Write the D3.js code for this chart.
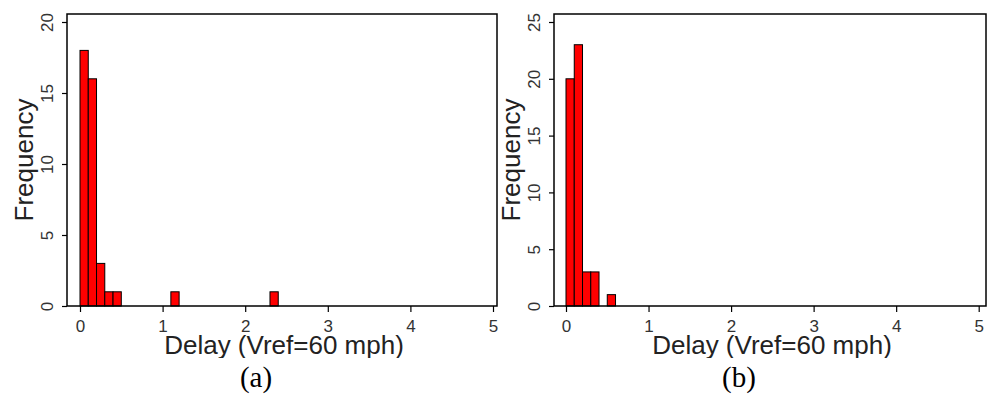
<!DOCTYPE html>
<html>
<head>
<meta charset="utf-8">
<script src="https://cdn.jsdelivr.net/npm/d3@7"></script>
<style>
  html, body { margin: 0; padding: 0; background: #fff; }
  svg { display: block; }
</style>
</head>
<body>
<svg id="chart" width="997" height="402"></svg>
<script>
// ---- data ----
const binWidth = 0.1;
const binStartsA = [0.0, 0.1, 0.2, 0.3, 0.4, 1.1, 2.3];
const countsA    = [18, 16, 3, 1, 1, 1, 1];
const binStartsB = [0.0, 0.1, 0.2, 0.3, 0.5];
const countsB    = [20, 23, 3, 3, 1];
const xTicks = [0, 1, 2, 3, 4, 5];
const yTicksA = [0, 5, 10, 15, 20];
const yTicksB = [0, 5, 10, 15, 20, 25];
const xTitle = "Delay (Vref=60 mph)";
const yTitle = "Frequency";
const panelLabels = ["(a)", "(b)"];

const svg = d3.select("#chart");

const panels = [
  { starts: binStartsA, counts: countsA, yTicks: yTicksA, yMax: 20,
    box: [67, 14, 497, 306], xr: [80, 493], yTop: 22,
    yLabOff: 14, yTitleX: 33, cap: panelLabels[0], capX: 256 },
  { starts: binStartsB, counts: countsB, yTicks: yTicksB, yMax: 25,
    box: [554, 14, 986, 306], xr: [566, 978.7], yTop: 22,
    yLabOff: 14, yTitleX: 520, cap: panelLabels[1], capX: 739 }
];

svg.append("defs").append("clipPath").attr("id", "titleClip")
  .append("rect").attr("x", 0).attr("y", 0).attr("width", 997).attr("height", 358);

panels.forEach((p, i) => {
  const [bx0, by0, bx1, by1] = p.box;
  const x = d3.scaleLinear().domain([0, 5]).range(p.xr);
  const y = d3.scaleLinear().domain([0, p.yMax]).range([by1, p.yTop]);
  const g = svg.append("g");

  const data = p.starts.map((s, k) => ({ x0: s, x1: s + binWidth, n: p.counts[k] }));

  g.selectAll("rect.bar").data(data).enter().append("rect")
    .attr("class", "bar")
    .attr("x", d => x(d.x0))
    .attr("width", d => x(d.x1) - x(d.x0))
    .attr("y", d => y(d.n))
    .attr("height", d => y(0) - y(d.n))
    .attr("fill", "#ff0000")
    .attr("stroke", "#000")
    .attr("stroke-width", 1);

  // frame
  g.append("rect")
    .attr("x", bx0).attr("y", by0)
    .attr("width", bx1 - bx0).attr("height", by1 - by0)
    .attr("fill", "none").attr("stroke", "#000").attr("stroke-width", 1.5);

  // x axis
  const xa = g.append("g").attr("transform", `translate(0,${by1})`)
    .call(d3.axisBottom(x).tickValues(xTicks).tickSize(6).tickFormat(d3.format("d")));
  xa.select(".domain").remove();
  xa.selectAll("line").attr("stroke", "#000").attr("stroke-width", 1.2);
  xa.selectAll("text")
    .attr("y", 26).attr("dy", 0)
    .attr("fill", "#333")
    .style("font-family", "'Liberation Sans', Arial, sans-serif")
    .style("font-size", "17px");

  // y axis
  const ya = g.append("g").attr("transform", `translate(${bx0},0)`)
    .call(d3.axisLeft(y).tickValues(p.yTicks).tickSize(5).tickFormat(d3.format("d")));
  ya.select(".domain").remove();
  ya.selectAll("line").attr("stroke", "#000").attr("stroke-width", 1.2);
  ya.selectAll("text")
    .attr("transform", "rotate(-90)")
    .attr("x", 0).attr("y", -p.yLabOff).attr("dy", 0)
    .attr("text-anchor", "middle")
    .attr("fill", "#333")
    .style("font-family", "'Liberation Sans', Arial, sans-serif")
    .style("font-size", "17px");

  // axis titles
  g.append("text")
    .attr("clip-path", "url(#titleClip)")
    .attr("x", (bx0 + bx1) / 2 + 2).attr("y", 354)
    .attr("text-anchor", "middle")
    .attr("fill", "#222")
    .style("font-family", "'Liberation Sans', Arial, sans-serif")
    .style("font-size", "26px")
    .text(xTitle);

  g.append("text")
    .attr("transform", `translate(${p.yTitleX},${(by0 + by1) / 2}) rotate(-90)`)
    .attr("text-anchor", "middle")
    .attr("fill", "#222")
    .style("font-family", "'Liberation Sans', Arial, sans-serif")
    .style("font-size", "26px")
    .text(yTitle);

  g.append("text")
    .attr("x", p.capX).attr("y", 387)
    .attr("text-anchor", "middle")
    .attr("fill", "#000")
    .style("font-family", "'Liberation Serif', 'Times New Roman', serif")
    .style("font-size", "29px")
    .text(p.cap);
});
</script>
</body>
</html>
